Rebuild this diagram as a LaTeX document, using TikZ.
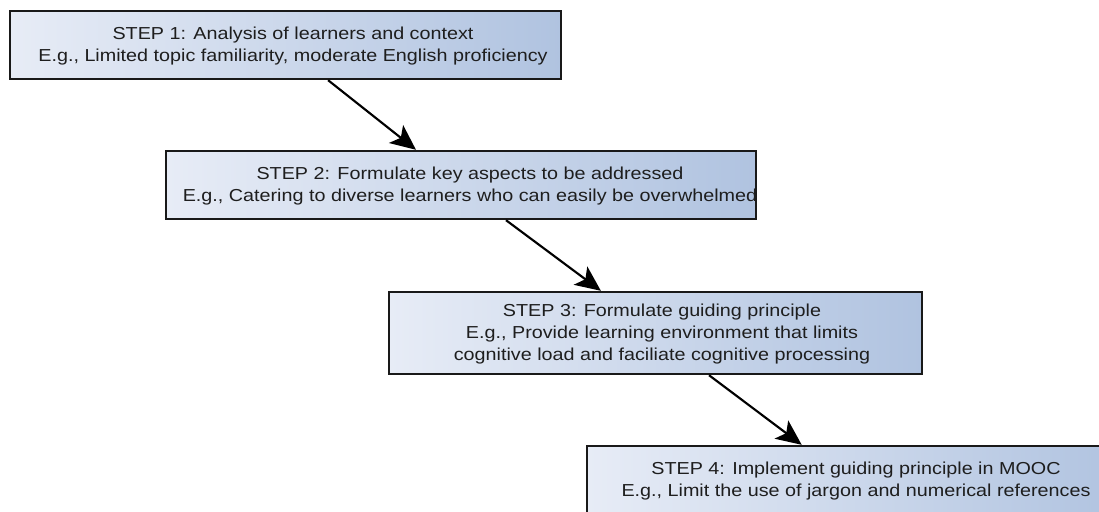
\documentclass[tikz,border=0pt]{standalone}
\usepackage{fontspec}
\setmainfont{Liberation Sans}
\newfontfamily\stepfont[FakeStretch=1.14]{Liberation Sans}
\usetikzlibrary{arrows.meta,calc}
\definecolor{boxleft}{RGB}{231,236,246}
\definecolor{boxright}{RGB}{176,195,224}
\definecolor{txt}{RGB}{30,30,30}
\tikzset{
  stepbox/.style={draw=black!90, line width=1.8pt, left color=boxleft, right color=boxright, inner sep=0pt},
  steptext/.style={align=center, text=txt, font=\stepfont\fontsize{13}{16.5}\selectfont, inner sep=0pt},
  flow/.style={line width=1.6pt, -{Stealth[length=19pt,width=17pt,inset=4.5pt]}}
}
\begin{document}
\begin{tikzpicture}[x=0.75pt,y=-0.75pt]
\useasboundingbox (0,0) rectangle (1099,511);
\clip (0,0) rectangle (1099,511);
\fill[white] (0,0) rectangle (1099,511);
% boxes
\node[stepbox, minimum width=551*0.75pt, minimum height=68*0.75pt] (b1) at (285.5,45) {};
\node[stepbox, minimum width=590*0.75pt, minimum height=68*0.75pt] (b2) at (461,185) {};
\node[stepbox, minimum width=533*0.75pt, minimum height=82*0.75pt] (b3) at (655.5,333) {};
\node[stepbox, minimum width=536*0.75pt, minimum height=68*0.75pt] (b4) at (855,480) {};
% texts
\node[steptext] (t1) at (293,46) {STEP 1: Analysis of learners and context\\E.g., Limited topic familiarity, moderate English proficiency};
\node[steptext] (t2) at (470,186) {STEP 2: Formulate key aspects to be addressed\\E.g., Catering to diverse learners who can easily be overwhelmed};
\node[steptext] (t3) at (662,334) {STEP 3: Formulate guiding principle\\E.g., Provide learning environment that limits\\cognitive load and faciliate cognitive processing};
\node[steptext] (t4) at (856,481) {STEP 4: Implement guiding principle in MOOC\\E.g., Limit the use of jargon and numerical references};
% connectors
\draw[flow] ($(b1.south west)!0.577!(b1.south east)$) -- ($(b2.north west)!0.424!(b2.north east)$);
\draw[flow] ($(b2.south west)!0.576!(b2.south east)$) -- ($(b3.north west)!0.398!(b3.north east)$);
\draw[flow] ($(b3.south west)!0.600!(b3.south east)$) -- ($(b4.north west)!0.401!(b4.north east)$);
\end{tikzpicture}
\end{document}
